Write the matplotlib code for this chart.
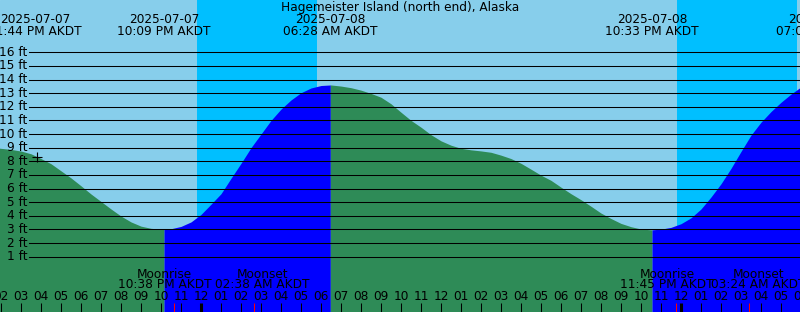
import numpy as np
import matplotlib
matplotlib.use('Agg')
import matplotlib.pyplot as plt
from datetime import datetime, timedelta

# hours relative to 2025-07-08 00:00 AKDT
base = datetime(2025, 7, 8, 0, 0)
title = 'Hagemeister Island (north end), Alaska'

hours = np.arange(-10, 30.5, 0.5)
height_ft = [8.95, 8.87, 8.75, 8.55, 8.2, 7.82, 7.3, 6.78, 6.2, 5.6,
             5.05, 4.5, 3.98, 3.55, 3.24, 3.08, 3.02, 3.05, 3.22, 3.55,
             4.1, 4.85, 5.62, 6.75, 7.85, 9.0, 10.0, 11.0, 11.83, 12.5,
             13.03, 13.38, 13.56, 13.6, 13.52, 13.4, 13.22, 12.98, 12.7, 12.22,
             11.6, 11.0, 10.5, 9.95, 9.5, 9.18, 8.95, 8.84, 8.76, 8.66,
             8.45, 8.2, 7.85, 7.42, 6.98, 6.6, 6.1, 5.62, 5.18, 4.7,
             4.2, 3.8, 3.44, 3.2, 3.03, 2.97, 3.02, 3.15, 3.42, 3.85,
             4.5, 5.38, 6.35, 7.48, 8.72, 9.92, 10.87, 11.65, 12.33, 12.93,
             13.46]

# high / low tides
tide_times = ['2025-07-07 13:44', '2025-07-07 22:09', '2025-07-08 06:28',
              '2025-07-08 22:33', '2025-07-09 07:06']
tide_ft = [9.0, 3.0, 13.6, 2.97, 13.6]

# night (sunset -> sunrise)
sunsets = ['2025-07-07 23:48', '2025-07-08 23:48']
sunrises = ['2025-07-08 05:48', '2025-07-09 05:48']

moon_times = ['2025-07-07 22:38', '2025-07-08 02:38', '2025-07-08 23:45', '2025-07-09 03:24']
moon_names = ['Moonrise', 'Moonset', 'Moonrise', 'Moonset']

mark_time, mark_ft = '2025-07-07 15:49', 8.28

ft_levels = list(range(1, 17))


def to_h(s):
    return (datetime.strptime(s, '%Y-%m-%d %H:%M') - base).total_seconds() / 3600.0


# ---- layout (pixels -> data) ----
W, H = 800, 312
x0 = -10.05
x1 = x0 + W / 20.0
PXFT = 13.627
ZERO = 270.3
y0 = (ZERO - H) / PXFT
y1 = ZERO / PXFT
FS = 8.7


def py(p):
    return (ZERO - p) / PXFT


def px(p):
    return x0 + p / 20.0


def hx(h):
    return (h - x0) * 20.0


fig = plt.figure(figsize=(8, 3.12), dpi=100)
ax = fig.add_axes([0, 0, 1, 1])
ax.set_xlim(x0, x1)
ax.set_ylim(y0, y1)
ax.axis('off')

ax.axvspan(x0, x1, color='#87CEEB', zorder=0)
for a, b in zip(sunsets, sunrises):
    ax.axvspan(to_h(a), to_h(b), color='#00BFFF', lw=0, zorder=0)

# merge curve samples with the tide extremes
tide_hours = [to_h(s) for s in tide_times]
t_all = np.concatenate([hours, tide_hours])
h_all = np.concatenate([height_ft, tide_ft])
order = np.argsort(t_all)
t_all, h_all = t_all[order], h_all[order]
keep = (t_all >= x0 - 0.6) & (t_all <= x1 + 0.6)
t_all, h_all = t_all[keep], h_all[keep]

bounds = [t_all[0]] + [t for t in tide_hours if t_all[0] < t < t_all[-1]] + [t_all[-1]]
for a, b in zip(bounds[:-1], bounds[1:]):
    m = (t_all >= a) & (t_all <= b)
    seg_t, seg_h = t_all[m], h_all[m]
    col = '#0000FF' if seg_h[-1] > seg_h[0] else '#2E8B57'
    ax.fill_between(seg_t, y0, seg_h, color=col, lw=0, zorder=1)

for lv in ft_levels:
    ax.plot([px(29), x1], [lv, lv], color='black', lw=0.75, zorder=2)
    ax.text(px(27.5), lv, '%d ft' % lv, ha='right', va='center', fontsize=FS, zorder=3)

ax.plot([to_h(mark_time)], [mark_ft], marker='+', color='black', ms=7, mew=0.8, zorder=3)

ax.text(px(400), py(7.5), title, ha='center', va='center', fontsize=FS, zorder=3)

for s in tide_times:
    d = datetime.strptime(s, '%Y-%m-%d %H:%M')
    cx = max(hx(to_h(s)), 35)
    ax.text(px(cx), py(19.5), d.strftime('%Y-%m-%d'), ha='center', va='center', fontsize=FS, zorder=3)
    ax.text(px(cx), py(31.5), d.strftime('%I:%M %p AKDT'), ha='center', va='center',
            fontsize=FS, zorder=3)

# hour ticks
for h in range(-10, 31):
    d = base + timedelta(hours=h)
    ax.text(h, py(297), d.strftime('%I'), ha='center', va='center', fontsize=FS, zorder=3)
    lw = 2.2 if d.hour == 0 else 0.75
    ax.plot([h, h], [py(303), y0], color='black', lw=lw, zorder=3, solid_capstyle='butt')

for s, name in zip(moon_times, moon_names):
    t = to_h(s)
    d = datetime.strptime(s, '%Y-%m-%d %H:%M')
    ax.plot([t, t], [py(303), y0], color='red', lw=0.75, zorder=4, solid_capstyle='butt')
    off = -9 if name == 'Moonrise' else 9
    ax.text(px(hx(t) + off), py(274), name, ha='center', va='center', fontsize=FS, zorder=3)
    ax.text(px(hx(t) + off), py(285), d.strftime('%I:%M %p AKDT'), ha='center', va='center',
            fontsize=FS, zorder=3)

fig.savefig('out.png', dpi=100)
